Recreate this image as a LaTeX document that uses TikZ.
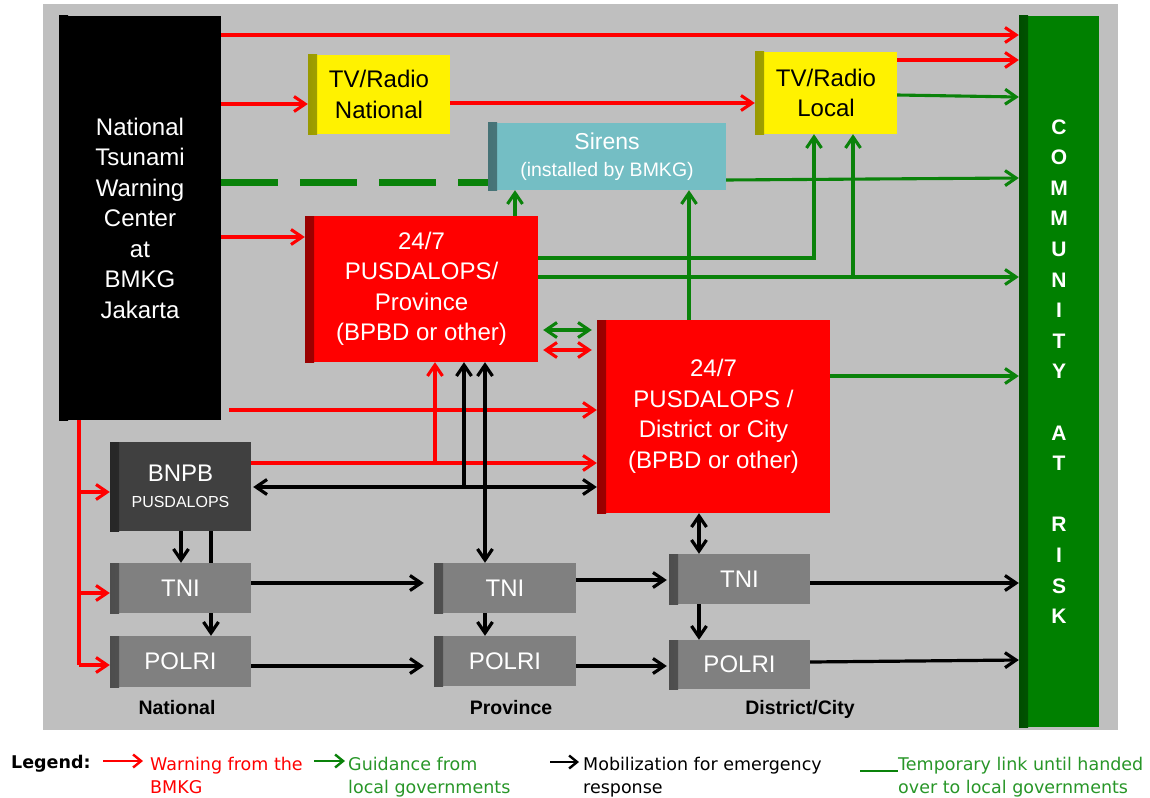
\documentclass[tikz,border=0pt]{standalone}
\usepackage{fontspec}
\setmainfont{Liberation Sans}
\newfontfamily\legfont{DejaVu Sans}
\usetikzlibrary{arrows.meta}
\definecolor{bggray}{RGB}{191,191,191}
\definecolor{warnred}{RGB}{255,0,0}
\definecolor{guidegreen}{RGB}{10,130,10}
\definecolor{bargreen}{RGB}{0,128,0}
\definecolor{leggreen}{RGB}{40,150,40}
\definecolor{sirenteal}{RGB}{116,190,196}
\definecolor{darkbox}{RGB}{64,64,64}
\definecolor{midbox}{RGB}{128,128,128}
\begin{document}
\begin{tikzpicture}[x=1pt,y=-1pt,>={Straight Barb[length=11pt,width=15pt]},
  box/.style={inner sep=0pt,align=center,text=white,font=\fontsize{24}{30.5}\selectfont,fill=#1,
    path picture={\shade[left color=#1!60!black,right color=#1] (path picture bounding box.south west) rectangle ([xshift=9pt]path picture bounding box.north west);}},
  box/.default=black,
  unit/.style={box=midbox,minimum width=141pt,minimum height=50pt},
  warn/.style={warnred,line width=3.1pt,->},
  guide/.style={guidegreen,line width=3.1pt,->},
  mob/.style={black,line width=3.2pt,->},
  level/.style={font=\bfseries\fontsize{19.5}{22}\selectfont},
  legtext/.style={font=\legfont\fontsize{17.5}{23}\selectfont,align=left,anchor=north west,inner sep=0pt},
  legarrow/.style={line width=2.4pt,>={Straight Barb[length=8pt,width=13pt]}}]
\useasboundingbox (0,0) rectangle (1150,797);
\fill[bggray] (43,4) rectangle (1118,730);

\node[box=black,minimum width=162pt,minimum height=404pt] (ntwc) at (140,218) {National\\Tsunami\\Warning\\Center\\at\\BMKG\\Jakarta};
\node[box=bargreen,minimum width=80pt,minimum height=711pt,font=\bfseries\fontsize{21}{30.6}\selectfont] (comm) at (1059,371.5) {C\\O\\M\\M\\U\\N\\I\\T\\Y\\~\\A\\T\\~\\R\\I\\S\\K};
\node[box=yellow,text=black,minimum width=142pt,minimum height=79pt] (tvnat) at (379,94.5) {TV/Radio\\National};
\node[box=yellow,text=black,minimum width=142pt,minimum height=82pt] (tvloc) at (826,93) {TV/Radio\\Local};
\node[box=sirenteal,minimum width=238pt,minimum height=67pt,font=\fontsize{23}{27}\selectfont] (sirens) at (607,156.5) {Sirens\\{\fontsize{19.5}{27}\selectfont(installed by BMKG)}};
\node[box=red,minimum width=233pt,minimum height=146pt] (prov) at (421.5,289) {24/7\\PUSDALOPS/\\Province\\(BPBD or other)};
\node[box=red,minimum width=233pt,minimum height=193pt] (dist) at (713.5,416.5) {24/7\\PUSDALOPS /\\District or City\\(BPBD or other)};
\node[box=darkbox,minimum width=141pt,minimum height=89pt] (bnpb) at (180.5,486.5) {BNPB\\[-4pt]{\fontsize{16}{20}\selectfont PUSDALOPS}};
\node[unit] (tnin) at (180.5,588) {TNI};
\node[unit,minimum height=51pt] (polrin) at (180.5,661.5) {POLRI};
\node[unit,minimum width=142pt] (tnip) at (505,588) {TNI};
\node[unit,minimum width=142pt] (polrip) at (505,661) {POLRI};
\node[unit] (tnid) at (739.5,579) {TNI};
\node[unit,minimum height=49pt] (polrid) at (739.5,664.5) {POLRI};
\node[level] (lnat) at (177,708) {National};
\node[level] (lprov) at (511,708) {Province};
\node[level] (ldist) at (800,709) {District/City};

\draw[warn] (ntwc.east |- 0,35) -- (comm.west |- 0,35);
\draw[warn] (ntwc.east |- 0,104) -- (tvnat.west |- 0,104);
\draw[warn] (tvnat.east |- 0,103) -- (tvloc.west |- 0,103);
\draw[warn] (tvloc.east |- 0,60) -- (comm.west |- 0,60);
\draw[warn] (ntwc.east |- 0,237) -- (prov.west |- 0,237);
\draw[warn,shorten <=8pt] (ntwc.east |- 0,410) -- (dist.west |- 0,410);
\draw[warn] (bnpb.east |- 0,463) -- (dist.west |- 0,463);
\coordinate (jr) at (435,463);
\draw[warn] (jr) -- (prov.south -| jr);
\draw[warnred,line width=3.1pt] (ntwc.south -| 79,0) -- (79,665);
\draw[warn] (79,492) -- (bnpb.west |- 0,492);
\draw[warn] (79,593) -- (tnin.west |- 0,593);
\draw[warn] (79,665) -- (polrin.west |- 0,665);
\draw[warn,<->,shorten <=5pt,shorten >=5pt] (prov.east |- 0,350) -- (dist.west |- 0,350);

\draw[guidegreen,line width=7pt,dash pattern=on 57pt off 22pt] (ntwc.east |- 0,182) -- (sirens.west |- 0,182);
\draw[guide] (tvloc.east |- 0,95) -- (comm.west |- 0,97);
\draw[guide] (sirens.east |- 0,180) -- (comm.west |- 0,178);
\draw[guide] (prov.north -| 515,0) -- (sirens.south -| 515,0);
\draw[guide] (prov.east |- 0,258) -| (tvloc.south -| 814,0);
\draw[guide] (prov.east |- 0,277) -- (comm.west |- 0,277);
\coordinate (jg) at (853,277);
\draw[guide] (jg) -- (tvloc.south -| jg);
\draw[guide] (dist.north -| 689,0) -- (sirens.south -| 689,0);
\draw[guide] (dist.east |- 0,376) -- (comm.west |- 0,376);
\draw[guide,<->,shorten <=5pt,shorten >=5pt] (prov.east |- 0,330) -- (dist.west |- 0,330);

\draw[mob,<->,shorten <=2pt] (bnpb.east |- 0,487) -- (dist.west |- 0,487);
\coordinate (jb) at (464,487);
\draw[mob] (jb) -- (prov.south -| jb);
\draw[mob,<->] (prov.south -| 485,0) -- (tnip.north -| 485,0);
\draw[mob] (bnpb.south -| 181,0) -- (tnin.north -| 181,0);
\draw[black,line width=3.2pt] (bnpb.south -| 211,0) -- (tnin.north -| 211,0);
\draw[mob] (tnin.south -| 211,0) -- (polrin.north -| 211,0);
\draw[mob,shorten >=10pt] (tnin.east |- 0,583) -- (tnip.west |- 0,583);
\draw[mob,shorten >=10pt] (polrin.east |- 0,666) -- (polrip.west |- 0,666);
\draw[mob] (tnip.south -| 485,0) -- (polrip.north -| 485,0);
\draw[mob,shorten >=2pt] (tnip.east |- 0,580) -- (tnid.west |- 0,580);
\draw[mob,shorten >=2pt] (polrip.east |- 0,666) -- (polrid.west |- 0,666);
\draw[mob,<->] (dist.south -| 699,0) -- (tnid.north -| 699,0);
\draw[mob] (tnid.south -| 699,0) -- (polrid.north -| 699,0);
\draw[mob] (tnid.east |- 0,583) -- (comm.west |- 0,583);
\draw[mob] (polrid.east |- 0,662) -- (comm.west |- 0,660);

\node[font=\legfont\bfseries\fontsize{17.5}{23}\selectfont,anchor=west,inner sep=0pt] (leg) at (11,764) {Legend:};
\node[legtext,text=warnred] (lwarn) at (150,757) {Warning from the\\BMKG};
\node[legtext,text=leggreen] (lguide) at (348,757) {Guidance from\\local governments};
\node[legtext] (lmob) at (583,757) {Mobilization for emergency\\response};
\node[legtext,text=leggreen] (ltemp) at (898,757) {Temporary link until handed\\over to local governments};
\draw[warn,legarrow,shorten >=7pt] (103,761) -- (lwarn.north west |- 0,761);
\draw[guide,legarrow,shorten >=3pt] (314,761) -- (lguide.north west |- 0,761);
\draw[mob,legarrow,shorten >=4pt] (550,762) -- (lmob.north west |- 0,762);
\draw[guidegreen,line width=2.4pt] (860,771) -- (ltemp.north west |- 0,771);
\end{tikzpicture}
\end{document}
